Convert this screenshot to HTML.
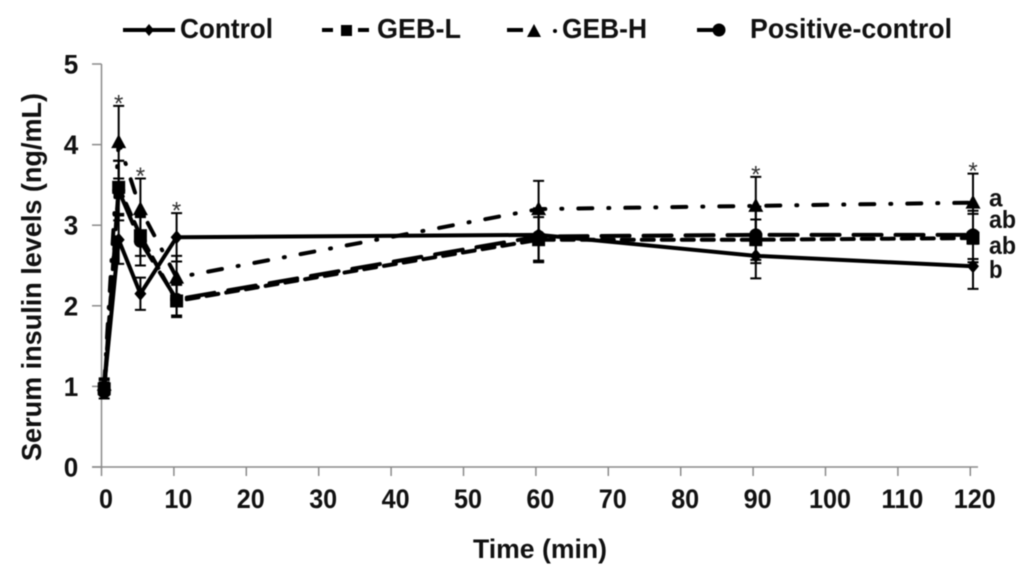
<!DOCTYPE html>
<html lang="en">
<head>
<meta charset="utf-8">
<title>Serum insulin levels</title>
<style>
html,body{margin:0;padding:0;background:#fff;width:1024px;height:573px;overflow:hidden}
svg{display:block;filter:blur(0.45px)}
text{font-family:"Liberation Sans",Arial,sans-serif;font-weight:bold;fill:#111}
</style>
</head>
<body>
<svg id="chart" width="1024" height="573" viewBox="0 0 1024 573" xmlns="http://www.w3.org/2000/svg">
  <g>
    <g>
      <line x1="123" y1="30" x2="175" y2="30" stroke="#000" stroke-width="4"/>
      <path d="M149 24L154 30L149 36L144 30Z" fill="#000"/>
      <text x="180" y="38" font-size="28" textLength="93" lengthAdjust="spacingAndGlyphs">Control</text>
    </g>
    <g>
      <line x1="322" y1="30" x2="333" y2="30" stroke="#000" stroke-width="4"/>
      <rect x="341" y="25" width="11" height="11" fill="#000"/>
      <line x1="358" y1="30" x2="369" y2="30" stroke="#000" stroke-width="4"/>
      <text x="377" y="38" font-size="28" textLength="84" lengthAdjust="spacingAndGlyphs">GEB-L</text>
    </g>
    <g>
      <line x1="507" y1="30" x2="523" y2="30" stroke="#000" stroke-width="4"/>
      <path d="M534 24L541 37L527 37Z" fill="#000"/>
      <circle cx="555" cy="31" r="2" fill="#000"/>
      <text x="562" y="38" font-size="28" textLength="85" lengthAdjust="spacingAndGlyphs">GEB-H</text>
    </g>
    <g>
      <line x1="697" y1="30" x2="725" y2="30" stroke="#000" stroke-width="4"/>
      <circle cx="719" cy="30" r="6.5" fill="#000"/>
      <text x="750" y="38" font-size="28" textLength="202" lengthAdjust="spacingAndGlyphs">Positive-control</text>
    </g>
  </g>
  <text transform="translate(41,461) rotate(-90)" font-size="28" textLength="368" lengthAdjust="spacingAndGlyphs">Serum insulin levels (ng/mL)</text>
  <text x="473" y="558" font-size="27" textLength="134" lengthAdjust="spacingAndGlyphs">Time (min)</text>
  <g id="axes"></g>
  <g id="plot"></g>
</svg>
<script>
const times = [0, 2, 5, 10, 60, 90, 120];
const xTickLabels = [0, 10, 20, 30, 40, 50, 60, 70, 80, 90, 100, 110, 120];
const yTickLabels = [0, 1, 2, 3, 4, 5];

const controlValues = [1.00, 2.82, 2.15, 2.85, 2.88, 2.62, 2.49];
const controlErrors = [0.08, 0.30, 0.20, 0.30, 0.33, 0.28, 0.28];
const gebLValues = [0.97, 3.47, 2.87, 2.06, 2.82, 2.82, 2.84];
const gebLErrors = [0.08, 0.33, 0.25, 0.20, 0.28, 0.25, 0.30];
const gebHValues = [1.02, 4.03, 3.20, 2.35, 3.20, 3.24, 3.28];
const gebHErrors = [0.08, 0.45, 0.38, 0.27, 0.35, 0.36, 0.36];
const positiveValues = [0.93, 3.43, 2.80, 2.08, 2.86, 2.88, 2.88];
const positiveErrors = [0.08, 0.37, 0.30, 0.20, 0.30, 0.35, 0.30];

const starTimes = [2, 5, 10, 90, 120];
const starValues = [4.48, 3.58, 3.15, 3.60, 3.64];
const groupLetters = ['a', 'ab', 'ab', 'b'];
const groupLetterValues = [3.23, 2.965, 2.64, 2.345];

const SVG_NS = 'http://www.w3.org/2000/svg';
const axes = document.getElementById('axes');
const plot = document.getElementById('plot');

function xAxis(t) { return 101.5 + t * 7.24; }
function xData(t) { return xAxis(t) + 2.7; }
function yAxis(v) { return 467 - v * 80.6; }

function add(parent, tag, attrs) {
  const el = document.createElementNS(SVG_NS, tag);
  for (const k in attrs) el.setAttribute(k, attrs[k]);
  parent.appendChild(el);
  return el;
}

const yLine = add(axes, 'line', {x1: 101.5, y1: yAxis(5), x2: 101.5, y2: 467, stroke: '#8a8a8a', 'stroke-width': 1.5});


const xLine = add(axes, 'line', {x1: 92, y1: 467, x2: 978, y2: 467, stroke: '#8a8a8a', 'stroke-width': 1.5});



yTickLabels.forEach(function (v) {
  const tick = add(axes, 'line', {x1: 92, y1: yAxis(v), x2: 101.5, y2: yAxis(v), stroke: '#8a8a8a', 'stroke-width': 1.5});
  
  
  const label = add(axes, 'text', {x: 71, y: yAxis(v) + 9.5, 'text-anchor': 'middle', 'font-size': 27, textLength: 14.5, lengthAdjust: 'spacingAndGlyphs'});
  
  
  label.textContent = v;
});

xTickLabels.forEach(function (t) {
  const tick = add(axes, 'line', {x1: xAxis(t), y1: 467, x2: xAxis(t), y2: 476, stroke: '#8a8a8a', 'stroke-width': 1.5});
  
  
  const label = add(axes, 'text', {x: xAxis(t) + 4.5, y: 508, 'text-anchor': 'middle', 'font-size': 27, textLength: String(t).length * 14, lengthAdjust: 'spacingAndGlyphs'});
  
  
  label.textContent = t;
});

function drawMarker(kind, cx, cy, parent) {
  let m;
  if (kind === 'diamond') {
    m = add(parent, 'path', {d: 'M' + cx + ' ' + (cy - 7) + 'L' + (cx + 6) + ' ' + cy + 'L' + cx + ' ' + (cy + 7) + 'L' + (cx - 6) + ' ' + cy + 'Z', fill: '#000'});
  } else if (kind === 'square') {
    m = add(parent, 'rect', {x: cx - 6.5, y: cy - 6.5, width: 13, height: 13, fill: '#000'});
  } else if (kind === 'triangle') {
    m = add(parent, 'path', {d: 'M' + cx + ' ' + (cy - 8) + 'L' + (cx + 7.5) + ' ' + (cy + 6) + 'L' + (cx - 7.5) + ' ' + (cy + 6) + 'Z', fill: '#000'});
  } else {
    m = add(parent, 'circle', {cx: cx, cy: cy, r: 6.5, fill: '#000'});
  }
  return m;
}

function drawSeries(name, values, errors, kind, dash) {
  const g = add(plot, 'g', {});
  
  
  values.forEach(function (v, i) {
    const x = xData(times[i]);
    const top = yAxis(v + errors[i]);
    const bottom = yAxis(v - errors[i]);
    const bar = add(g, 'path', {d: 'M' + x + ' ' + top + 'V' + bottom + 'M' + (x - 5.5) + ' ' + top + 'H' + (x + 5.5) + 'M' + (x - 5.5) + ' ' + bottom + 'H' + (x + 5.5), stroke: '#000', 'stroke-width': 2, fill: 'none'});
    
    
  });
  const line = add(g, 'polyline', {
    points: values.map(function (v, i) { return xData(times[i]) + ',' + yAxis(v); }).join(' '),
    fill: 'none', stroke: '#000', 'stroke-width': 4, 'stroke-linejoin': 'round', 'stroke-linecap': 'round', 'stroke-dasharray': dash
  });
  
  
  values.forEach(function (v, i) {
    const marker = drawMarker(kind, xData(times[i]), yAxis(v), g);
    
    
  });
}

drawSeries('control', controlValues, controlErrors, 'diamond', 'none');
drawSeries('geb-l', gebLValues, gebLErrors, 'square', '12 8');
drawSeries('geb-h', gebHValues, gebHErrors, 'triangle', '14 16 1 16');
drawSeries('positive-control', positiveValues, positiveErrors, 'circle', '28 14');

starTimes.forEach(function (t, i) {
  const star = add(plot, 'text', {x: xData(t), y: yAxis(starValues[i]) + 5.5, 'text-anchor': 'middle', 'font-size': 24, style: 'font-weight:normal;fill:#333'});
  
  
  star.textContent = '*';
});

groupLetters.forEach(function (s, i) {
  const letter = add(plot, 'text', {x: 989, y: yAxis(groupLetterValues[i]), 'font-size': 25, textLength: s.length * 13.5, lengthAdjust: 'spacingAndGlyphs'});
  
  
  letter.textContent = s;
});
</script>
</body>
</html>
